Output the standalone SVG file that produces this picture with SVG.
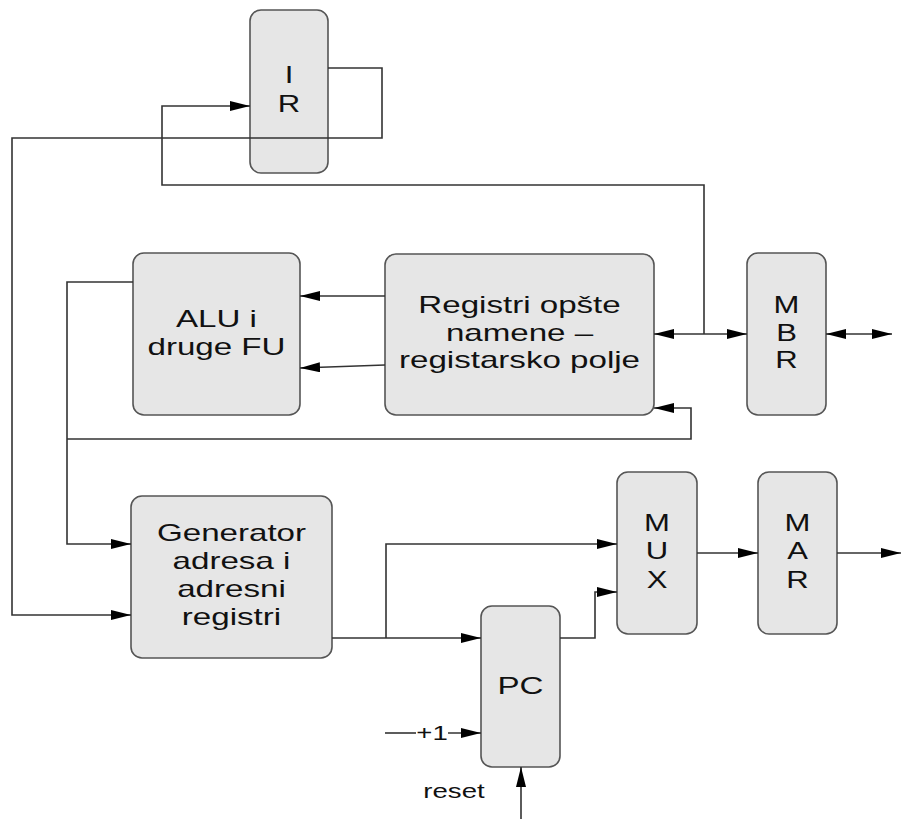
<svg xmlns="http://www.w3.org/2000/svg" width="901" height="819" viewBox="0 0 901 819">
<style>
.box{fill:#e6e6e6;stroke:#555;stroke-width:1.6}
.t{font-family:"Liberation Sans",Arial,sans-serif;font-size:24px;fill:#111;text-anchor:middle}
.l{font-size:23px}
.s{font-size:20px}
.c{fill:none;stroke:#333;stroke-width:1.6}
</style>
<defs>
<marker id="a" markerUnits="userSpaceOnUse" markerWidth="20" markerHeight="10" refX="20" refY="5" orient="auto-start-reverse" viewBox="0 0 20 10">
<path d="M0,0 L20,5 L0,10 z" fill="#000"/>
</marker>
</defs>
<rect width="901" height="819" fill="#fff"/>
<g id="ir"><rect class="box" x="250" y="10" width="78" height="163" rx="11"/>
<g transform="translate(289 0) scale(1.35 1)"><text class="t l" x="0" y="83">I</text><text class="t l" x="0" y="112">R</text></g></g>
<g id="alu"><rect class="box" x="133" y="253" width="167" height="162" rx="11"/>
<g transform="translate(216.5 0) scale(1.38 1)"><text class="t" x="0" y="327">ALU i</text><text class="t" x="0" y="355">druge FU</text></g></g>
<g id="reg"><rect class="box" x="385" y="254" width="269" height="161" rx="11"/>
<g transform="translate(519.5 0) scale(1.38 1)"><text class="t" x="0" y="313">Registri opšte</text><text class="t" x="0" y="341">namene –</text><text class="t" x="0" y="368">registarsko polje</text></g></g>
<g id="mbr"><rect class="box" x="747" y="253" width="79" height="162" rx="11"/>
<g transform="translate(786.5 0) scale(1.35 1)"><text class="t l" x="0" y="313">M</text><text class="t l" x="0" y="341">B</text><text class="t l" x="0" y="368">R</text></g></g>
<g id="gen"><rect class="box" x="131" y="496" width="201" height="162" rx="11"/>
<g transform="translate(231.5 0) scale(1.38 1)"><text class="t" x="0" y="541">Generator</text><text class="t" x="0" y="569">adresa i</text><text class="t" x="0" y="597">adresni</text><text class="t" x="0" y="625">registri</text></g></g>
<g id="mux"><rect class="box" x="617" y="472" width="80" height="162" rx="11"/>
<g transform="translate(657 0) scale(1.35 1)"><text class="t l" x="0" y="531">M</text><text class="t l" x="0" y="559">U</text><text class="t l" x="0" y="588">X</text></g></g>
<g id="mar"><rect class="box" x="758" y="472" width="79" height="162" rx="11"/>
<g transform="translate(797.5 0) scale(1.35 1)"><text class="t l" x="0" y="531">M</text><text class="t l" x="0" y="559">A</text><text class="t l" x="0" y="588">R</text></g></g>
<g id="pc"><rect class="box" x="481" y="606" width="79" height="161" rx="11"/>
<g transform="translate(520.5 0) scale(1.38 1)"><text class="t" x="0" y="694">PC</text></g></g>
<g id="connectors">
<polyline class="c" points="328,68 382,68 382,138 12,138 12,615 131,615" marker-end="url(#a)"/>
<polyline class="c" points="704,334 704,185 162,185 162,106 250,106" marker-end="url(#a)"/>
<line class="c" x1="385" y1="296" x2="300" y2="296" marker-end="url(#a)"/>
<line class="c" x1="385" y1="365" x2="300" y2="368" marker-end="url(#a)"/>
<line class="c" x1="654" y1="334" x2="747" y2="334" marker-start="url(#a)" marker-end="url(#a)"/>
<line class="c" x1="826" y1="334" x2="892" y2="334" marker-start="url(#a)" marker-end="url(#a)"/>
<polyline class="c" points="133,282 67,282 67,544 131,544" marker-end="url(#a)"/>
<polyline class="c" points="67,439 691,439 691,408 654,408" marker-end="url(#a)"/>
<line class="c" x1="332" y1="638" x2="481" y2="638" marker-end="url(#a)"/>
<polyline class="c" points="386,638 386,544 617,544" marker-end="url(#a)"/>
<polyline class="c" points="560,638 595,638 595,592 617,592" marker-end="url(#a)"/>
<line class="c" x1="697" y1="553" x2="758" y2="553" marker-end="url(#a)"/>
<line class="c" x1="837" y1="553" x2="901" y2="553" marker-end="url(#a)"/>
<line class="c" x1="385" y1="733" x2="416" y2="733"/>
<line class="c" x1="448" y1="733" x2="481" y2="733" marker-end="url(#a)"/>
<line class="c" x1="521" y1="819" x2="521" y2="767" marker-end="url(#a)"/>
</g>
<g transform="translate(432 0) scale(1.38 1)"><text class="t s" x="0" y="740">+1</text></g>
<g transform="translate(454 0) scale(1.38 1)"><text class="t s" x="0" y="798">reset</text></g>
</svg>
